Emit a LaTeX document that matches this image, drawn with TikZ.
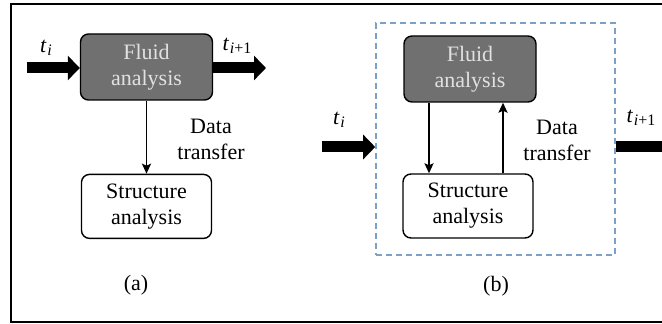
\documentclass[tikz,border=0pt]{standalone}
\usepackage{fontspec}
\setmainfont{Liberation Serif}
\usetikzlibrary{arrows.meta, positioning}
\tikzset{
  fluid/.style={draw, line width=0.7pt, rounded corners=4pt, fill=fluidgray, text=fluidtext,
    minimum width=66pt, minimum height=33pt, align=center, inner sep=1pt},
  struct/.style={draw, line width=0.7pt, rounded corners=4pt, fill=white,
    minimum width=65pt, minimum height=32pt, align=center, inner sep=1pt},
  arr/.style={-{Stealth[length=5pt, width=4.5pt, inset=1pt]}, line width=0.9pt},
  bigarr/.style={-{Triangle[length=6pt, width=12pt]}, line width=5.5pt},
  lbl/.style={align=center, inner sep=0pt},
}
\definecolor{fluidgray}{RGB}{112,112,112}
\definecolor{fluidtext}{RGB}{225,225,225}
\definecolor{dashblue}{RGB}{125,160,200}
\newcommand{\tsub}[1]{\textit{t}\kern0.3pt\raisebox{-0.35ex}{\footnotesize #1}}
\begin{document}
\begin{tikzpicture}[x=0.5pt, y=-0.5pt, font=\fontsize{11}{13}\selectfont]
    \clip (0,0) rectangle (662,324);
    \draw[line width=0.9pt] (11,4) rectangle (680,322);

    % (a) separate analyses
    \node[fluid] (fluidA) at (146.5,67) {Fluid\\analysis};
    \node[struct, below=36.5pt of fluidA] (structA) {Structure\\analysis};
    \coordinate (inA) at (27,68);
    \coordinate (outA) at (266,68);
    \draw[bigarr] (inA) -- (inA -| fluidA.west);
    \draw[bigarr] (fluidA.east |- outA) -- (outA);
    \node[lbl] (tiA) at (46,48) {\tsub{\textit{i}}};
    \node[lbl] (tnA) at (237,46) {\tsub{\textit{i}+1}};
    \draw[arr] (fluidA.south) -- (structA.north);
    \node[lbl] (dataA) at (211,139) {Data\\transfer};
    \node[lbl] (capA) at (136,285) {(a)};

    % (b) coupled analyses
    \node[draw=dashblue, line width=0.8pt, dash pattern=on 3pt off 2pt,
      minimum width=119.5pt, minimum height=116pt] (coupled) at (495.5,139) {};
    \node[fluid] (fluidB) at (470,69) {Fluid\\analysis};
    \node[struct] (structB) at (468,206) {Structure\\analysis};
    \draw[arr] ([xshift=-20.5pt]fluidB.south) -- ([xshift=-20.5pt]fluidB.south |- structB.north);
    \draw[arr] ([xshift=17.5pt]structB.north) -- ([xshift=17.5pt]structB.north |- fluidB.south);
    \node[lbl] (dataB) at (557,140) {Data\\transfer};
    \coordinate (inB) at (322,147);
    \coordinate (outB) at (674,147);
    \draw[bigarr] (inB) -- (inB -| coupled.west);
    \draw[bigarr] (coupled.east |- outB) -- (outB);
    \node[lbl] (tiB) at (339,120) {\tsub{\textit{i}}};
    \node[lbl] (tnB) at (641,118) {\tsub{\textit{i}+1}};
    \node[lbl] (capB) at (496,286) {(b)};
\end{tikzpicture}
\end{document}
